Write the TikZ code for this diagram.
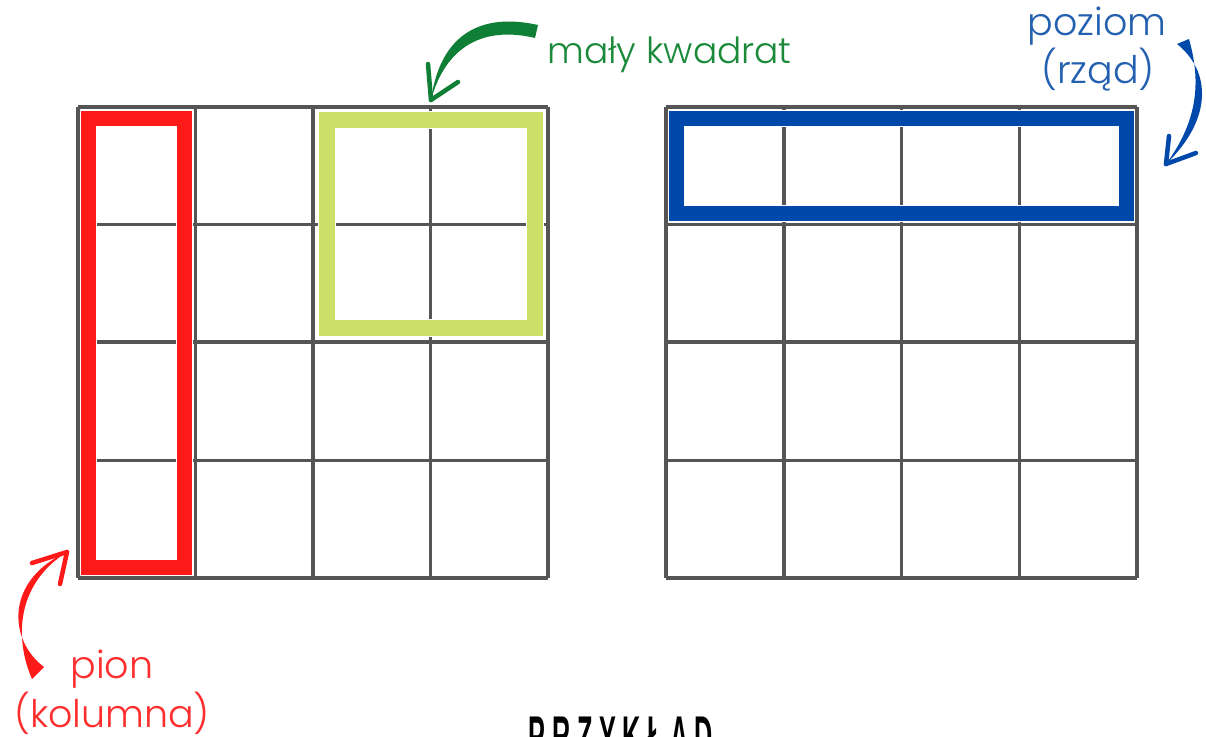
\documentclass[tikz,border=0pt]{standalone}
\usepackage{fontspec}
\newfontfamily\lab{Poppins Light}
\newfontfamily\titlef{Liberation Sans}[FakeStretch=0.45,LetterSpace=12]
\definecolor{gridgray}{HTML}{555555}
\definecolor{redc}{HTML}{FF1A1A}
\definecolor{greenbox}{HTML}{CDE16A}
\definecolor{bluec}{HTML}{0048AA}
\definecolor{greentext}{HTML}{1A8A3A}
\definecolor{greenarrow}{HTML}{0F7F35}
\definecolor{bluetext}{HTML}{2460B0}
\definecolor{redtext}{HTML}{FF2E2E}
\tikzset{
  gridline/.style={draw=gridgray,line width=3.5pt},
  halo/.style={draw=white,line width=18pt},
  hilite/.style={line width=15pt},
  lbl/.style={font=\lab\fontsize{36}{42}\selectfont,inner sep=0pt},
  biglbl/.style={font=\lab\fontsize{38}{44}\selectfont,inner sep=0pt},
  brush/.style={line width=4.5pt,line cap=round},
}
\begin{document}
\begin{tikzpicture}[x=1pt,y=-1pt]
\useasboundingbox (0,0) rectangle (1206,736);
\fill[white] (0,0) rectangle (1206,736);
% left grid
\foreach \x in {78,195.5,313,430.5,548} \draw[gridline] (\x,107) -- (\x,578);
\foreach \y in {107,224.5,342,460.5,578} \draw[gridline] (78,\y) -- (548,\y);
% right grid
\foreach \x in {666,783.75,901.5,1019.25,1137} \draw[gridline] (\x,107) -- (\x,578);
\foreach \y in {107,224.5,342,460.5,578} \draw[gridline] (666,\y) -- (1137,\y);
% highlight rectangles
\draw[halo,line width=17pt] (88.5,118) rectangle (184,567.5);
\draw[hilite,draw=redc] (88.5,118) rectangle (184,567.5);
\draw[halo,line width=18pt] (326.5,120) rectangle (535,328);
\draw[hilite,line width=16pt,draw=greenbox] (326.5,120) rectangle (535,328);
\draw[halo,line width=17pt] (676.5,118) rectangle (1126.5,213.5);
\draw[hilite,draw=bluec] (676.5,118) rectangle (1126.5,213.5);
% labels
\node[lbl,text=greentext,anchor=base west] (mk) at (547,63) {mały kwadrat};
\node[biglbl,text=bluetext,anchor=base] (pz) at (1097,35) {poziom};
\node[biglbl,text=bluetext,anchor=base] (rz) at (1098,83) {(rząd)};
\node[biglbl,text=redtext,anchor=base] (pn) at (112,678) {pion};
\node[biglbl,text=redtext,anchor=base] (kl) at (112,727) {(kolumna)};
\node[inner sep=0pt,anchor=north,font=\titlef\bfseries\fontsize{56}{60}\selectfont] (pr) at (621,717) {PRZYKŁAD};
% green arrow
\coordinate (gs) at (533,31);
\coordinate (gt) at (431,100);
\fill[greenarrow] (538,25) .. controls (480,12) and (440,35) .. (gt)
  .. controls (446,45) and (485,26) .. (535,38) -- cycle;
\draw[brush,draw=greenarrow] (gt) -- (428,64);
\draw[brush,draw=greenarrow] (gt) -- (458,82);
% blue arrow
\coordinate (bs) at (1183,44);
\coordinate (bt) at (1166,164);
\fill[bluec] (1177,44) .. controls (1212,72) and (1212,120) .. (bt)
  .. controls (1200,118) and (1200,78) .. (1189,39) -- cycle;
\draw[brush,draw=bluec] (bt) -- (1169,136);
\draw[brush,draw=bluec] (bt) -- (1196,153);
% red arrow
\coordinate (rs) at (38,673);
\coordinate (rt) at (67,552);
\fill[redc] (44,667) .. controls (8,640) and (5,580) .. (rt)
  .. controls (15,585) and (15,640) .. (32,679) -- cycle;
\draw[brush,draw=redc] (rt) -- (32,563);
\draw[brush,draw=redc] (rt) -- (60,584);
\end{tikzpicture}
\end{document}
